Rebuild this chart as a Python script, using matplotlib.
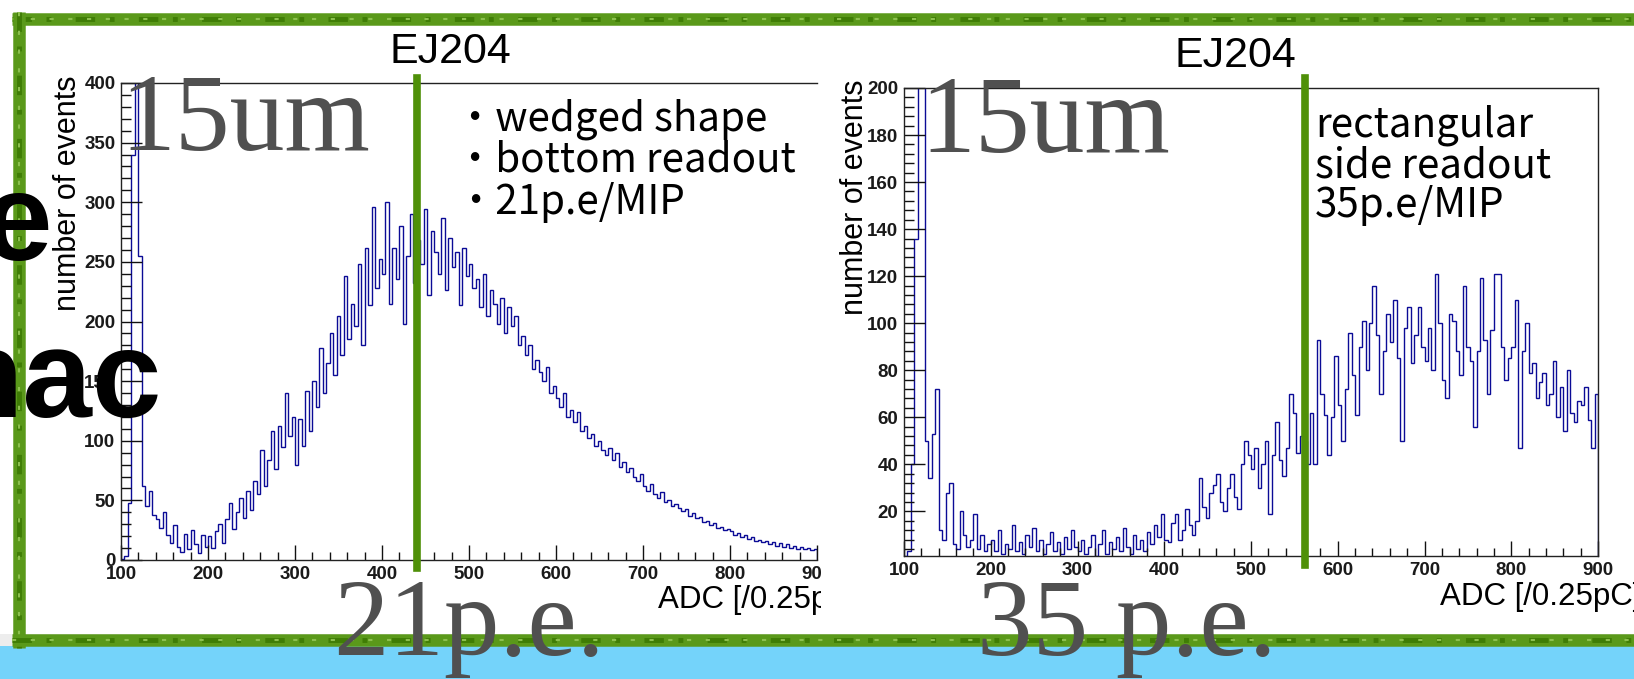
import numpy as np
import matplotlib
matplotlib.use("Agg")
import matplotlib.pyplot as plt
from matplotlib.patches import Rectangle
from matplotlib.ticker import MultipleLocator

plt.rcParams['font.family'] = ['Liberation Sans', 'DejaVu Sans']

# 画像サイズ (px)
W = 1634
H = 679

# ヒストグラム: ADC 100-900, 4 ADC/bin
bin_edges = np.arange(100, 901, 4)

# 左: wedged shape / bottom readout (EJ204, 15um)
wedged_counts = [
    1, 3, 48, 340, 420, 255, 62, 45, 58, 38, 34, 27, 40, 21, 14, 29, 11, 7, 22, 9, 25, 13, 6, 21, 11,
    20, 10, 24, 30, 14, 34, 48, 26, 40, 52, 35, 58, 42, 66, 55, 92, 62, 84, 108, 76, 112, 95, 140, 104, 120,
    80, 118, 96, 142, 108, 150, 128, 178, 140, 165, 190, 155, 205, 172, 238, 185, 215, 196, 248, 180, 262, 214, 296, 228, 252,
    240, 300, 215, 262, 236, 280, 198, 255, 290, 232, 268, 248, 294, 222, 276, 258, 240, 287, 226, 270, 246, 258, 214, 262, 238,
    248, 228, 236, 212, 240, 205, 226, 215, 198, 220, 190, 212, 196, 205, 180, 188, 172, 180, 160, 168, 158, 150, 162, 140, 146,
    136, 128, 140, 120, 126, 116, 124, 108, 112, 102, 106, 96, 100, 92, 88, 94, 84, 90, 78, 82, 74, 77, 70, 66, 72,
    62, 58, 64, 55, 52, 57, 49, 50, 45, 47, 44, 41, 43, 37, 39, 35, 36, 32, 33, 29, 31, 27, 28, 25, 26,
    24, 21, 23, 19, 21, 18, 19, 16, 17, 15, 16, 13, 15, 12, 14, 11, 13, 10, 12, 9, 11, 9, 10, 8, 9,
]

# 右: rectangular / side readout
rect_counts = [
    1, 3, 40, 136, 230, 230, 50, 34, 53, 72, 12, 8, 28, 32, 6, 4, 20, 10, 5, 8, 19, 4, 10, 3, 6,
    8, 3, 12, 2, 6, 4, 14, 3, 7, 2, 10, 5, 13, 3, 8, 2, 6, 11, 3, 7, 2, 9, 4, 12, 5,
    3, 8, 2, 5, 10, 1, 6, 12, 2, 7, 4, 9, 3, 13, 5, 2, 10, 4, 8, 3, 11, 6, 14, 9, 19,
    8, 7, 15, 19, 8, 12, 21, 14, 10, 16, 34, 22, 17, 28, 31, 36, 24, 20, 30, 36, 26, 21, 40, 50, 44,
    38, 47, 30, 40, 50, 19, 44, 58, 42, 35, 47, 70, 62, 45, 52, 50, 40, 62, 40, 93, 70, 61, 44, 60, 86,
    65, 50, 72, 96, 78, 61, 90, 101, 80, 100, 116, 95, 70, 88, 104, 92, 110, 85, 50, 98, 107, 83, 95, 107, 90,
    84, 98, 80, 121, 100, 76, 68, 104, 101, 88, 78, 116, 90, 84, 56, 88, 119, 93, 70, 97, 121, 121, 90, 76, 85,
    90, 110, 47, 88, 100, 79, 83, 68, 75, 79, 65, 70, 84, 60, 73, 54, 80, 62, 58, 67, 65, 73, 59, 47, 70,
]

# 緑の縦線 (ADC)
marker_adc = [440, 562]
notes_left = ["・wedged shape", "・bottom readout", "・21p.e/MIP"]
notes_right = ["rectangular", "side readout", "35p.e/MIP"]
pe_labels = ["21p.e.", "35 p.e."]

HIST_BLUE = '#0b0b96'
GREEN = '#4f9008'
BORDER = '#5a991a'
GRAY_TXT = '#505050'

fig = plt.figure(figsize=(W / 100, H / 100), dpi=100)


def px_axes(x0, y0, x1, y1, z):
    return fig.add_axes([x0 / W, 1 - y1 / H, (x1 - x0) / W, (y1 - y0) / H], zorder=z)


# 背景 (スライド)
bg = px_axes(0, 0, W, H, 0)
bg.set_xlim(0, W)
bg.set_ylim(H, 0)
bg.axis('off')
bg.add_patch(Rectangle((0, 634), W, 12, color='#ededed', lw=0))
bg.add_patch(Rectangle((0, 646), W, 33, color='#74d3fa', lw=0))


def root_hist(ax, counts, ymin, ymax, ymajor, yminor, marker, vext):
    ax.stairs(counts, bin_edges, color=HIST_BLUE, lw=1.0)
    ax.set_xlim(100, 900)
    ax.set_ylim(ymin, ymax)
    ax.xaxis.set_major_locator(MultipleLocator(100))
    ax.xaxis.set_minor_locator(MultipleLocator(20))
    ax.yaxis.set_major_locator(MultipleLocator(ymajor))
    ax.yaxis.set_minor_locator(MultipleLocator(yminor))
    ax.tick_params(which='both', direction='in', top=False, right=False,
                   labelsize=13.5, pad=4, width=1.0, color='#111111')
    ax.tick_params(axis='x', which='major', length=11)
    ax.tick_params(axis='x', which='minor', length=5.5)
    ax.tick_params(axis='y', which='major', length=15)
    ax.tick_params(axis='y', which='minor', length=7.5)
    for lab in ax.get_xticklabels() + ax.get_yticklabels():
        lab.set_fontweight('bold')
        lab.set_color('#1a1a1a')
    for s in ax.spines.values():
        s.set_linewidth(1.0)
        s.set_color('#222222')
    ax.axvline(marker, ymin=vext[0], ymax=vext[1], clip_on=False,
               color=GREEN, lw=5.5, zorder=5)


ax1 = px_axes(121, 83, 817, 560, 1)
root_hist(ax1, wedged_counts, 0, 400, 50, 10, marker_adc[0], (-0.017, 1.01))
ax1.spines['right'].set_visible(False)
ax1.text(0.772, -0.084, "ADC [/0.25pC]", transform=ax1.transAxes,
         fontsize=22.5, ha='left', va='center', clip_on=False)

# 右の画像の白い下地
panel = px_axes(821, 40, W, 632, 2)
panel.set_xlim(0, 1)
panel.set_ylim(0, 1)
panel.axis('off')
panel.add_patch(Rectangle((0, 0), 1, 1, color='white', lw=0))

ax2 = px_axes(904, 88, 1598, 556, 3)
root_hist(ax2, rect_counts, 1, 200, 20, 4, marker_adc[1], (-0.019, 1.021))
ax2.text(0.772, -0.088, "ADC [/0.25pC]", transform=ax2.transAxes,
         fontsize=22.5, ha='left', va='center', clip_on=False)

# 前面: 枠線と文字
top = px_axes(0, 0, W, H, 10)
top.set_xlim(0, W)
top.set_ylim(H, 0)
top.axis('off')
top.patch.set_alpha(0)

for xs, ys in [((12, W), (19, 19)), ((19, 19), (12, 648)), ((12, W), (640, 640))]:
    top.plot(xs, ys, color=BORDER, lw=9, solid_capstyle='butt', zorder=2)
    top.plot(xs, ys, color='#3f7d05', lw=3.5, dashes=(4, 3, 1, 5), zorder=2)
    top.plot(xs, ys, color='#8cc04e', lw=1.5, dashes=(2, 7), zorder=2)

top.text(52, 260, "e", fontsize=90, fontweight='bold', ha='right', va='baseline', zorder=4)
top.text(162, 417, "nac", fontsize=90, fontweight='bold', ha='right', va='baseline', zorder=4)

top.text(68, 193, "number of events", rotation=90, fontsize=22, ha='center', va='center', zorder=3)
top.text(855, 197, "number of events", rotation=90, fontsize=22, ha='center', va='center', zorder=3)
top.text(450, 52, "EJ204", fontsize=31, ha='center', va='center', zorder=3)
top.text(1235, 56, "EJ204", fontsize=31, ha='center', va='center', zorder=3)

serif = ['Liberation Serif', 'DejaVu Serif']
top.text(120, 150, "15um", fontsize=79, family=serif, color=GRAY_TXT, va='baseline', zorder=3)
top.text(920, 152, "15um", fontsize=79, family=serif, color=GRAY_TXT, va='baseline', zorder=3)

jp = ['Noto Sans CJK JP', 'DejaVu Sans']
for i, line in enumerate(notes_left):
    top.text(455, 130 + 42 * i, line, fontsize=29, family=jp, va='baseline', zorder=3)
for i, line in enumerate(notes_right):
    top.text(1315, 137 + 40 * i, line, fontsize=29, family=jp, va='baseline', zorder=3)

top.text(333, 655, pe_labels[0], fontsize=80, family=serif, color=GRAY_TXT, va='baseline', zorder=5)
top.text(977, 655, pe_labels[1], fontsize=80, family=serif, color=GRAY_TXT, va='baseline', zorder=5)

fig.savefig("out.png", dpi=100)
